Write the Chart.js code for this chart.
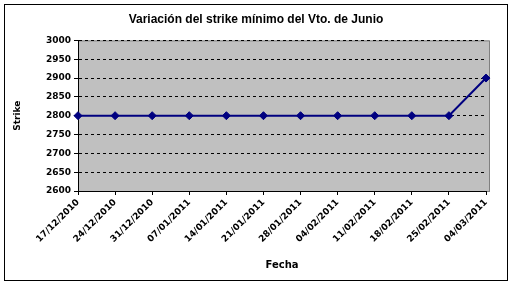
<!DOCTYPE html>
<html><head><meta charset="utf-8">
<script src="https://cdn.jsdelivr.net/npm/chart.js@4/dist/chart.umd.min.js"></script>
<style>
html,body{margin:0;padding:0;background:#fff;}
#wrap{position:absolute;left:0;top:0;width:515px;height:286px;}
#frame{position:absolute;left:4px;top:4px;width:504px;height:277px;border:1px solid #000;box-sizing:border-box;pointer-events:none;}
</style></head>
<body>
<div id="wrap"><canvas id="c" width="515" height="286"></canvas><div id="frame"></div></div>
<script>
const categories = ['17/12/2010','24/12/2010','31/12/2010','07/01/2011','14/01/2011','21/01/2011','28/01/2011','04/02/2011','11/02/2011','18/02/2011','25/02/2011','04/03/2011'];
const strikeValues = [2800,2800,2800,2800,2800,2800,2800,2800,2800,2800,2800,2900];
const yTicks = [2600,2650,2700,2750,2800,2850,2900,2950,3000];

const bgPlugin = {
  id:'bg',
  beforeDraw(chart){
    const {ctx, chartArea:a} = chart;
    ctx.save();
    ctx.fillStyle='#C0C0C0';
    ctx.fillRect(a.left, a.top, a.right-a.left+3, a.bottom-a.top);
    ctx.strokeStyle='#808080';
    ctx.lineWidth=1;
    ctx.strokeRect(a.left+0.5, a.top+0.5, a.right-a.left+3, a.bottom-a.top);
    ctx.restore();
  }
};

const font = {family:'"DejaVu Sans", Arial, sans-serif', size:9, weight:'bold'};
new Chart(document.getElementById('c'), {
  type:'line',
  data:{labels:categories, datasets:[{
    data:strikeValues,
    borderColor:'#000080', backgroundColor:'#000080',
    borderWidth:2, pointStyle:'rectRot', pointRadius:4, pointBorderWidth:1,
    tension:0, clip:false
  }]},
  plugins:[bgPlugin],
  options:{
    responsive:false, animation:false,
    layout:{padding:{left:8,right:11,top:6,bottom:5}},
    plugins:{
      legend:{display:false}, tooltip:{enabled:false},
      title:{display:true, text:'Variación del strike mínimo del Vto. de Junio', color:'#000',
        font:{family:'Arial, "Liberation Sans", sans-serif', size:12, weight:'bold'}, padding:{top:6,bottom:14}}
    },
    scales:{
      x:{
        offset:false,
        afterFit(s){ s.height = 90; },
        ticks:{color:'#000', font:font, maxRotation:45, minRotation:45, autoSkip:false, padding:2},
        grid:{drawOnChartArea:false, drawTicks:true, tickLength:4, color:'#000'},
        border:{display:true, color:'#000'},
        title:{display:true, text:'Fecha', color:'#000', font:{family:'"DejaVu Sans", Arial, sans-serif', size:10, weight:'bold'}, padding:{top:4,bottom:10}}
      },
      y:{
        min:2600, max:3000,
        afterFit(s){ s.width = 70; },
        afterBuildTicks(s){ s.ticks = yTicks.map(v=>({value:v})); },
        ticks:{color:'#000', font:font, padding:3, callback:v=>String(v)},
        grid:{color:'#000', lineWidth:1, tickLength:4, drawTicks:true},
        border:{display:true, color:'#000', dash:[3,3]},
        title:{display:true, text:'Strike', color:'#000', font:font, padding:{top:4,bottom:0}}
      },
      y2:{
        position:'right', min:0, max:1,
        afterFit(s){ s.width = 18; },
        ticks:{display:false},
        grid:{display:false, drawOnChartArea:false, drawTicks:false},
        border:{display:false}
      }
    }
  }
});
</script>
</body></html>
